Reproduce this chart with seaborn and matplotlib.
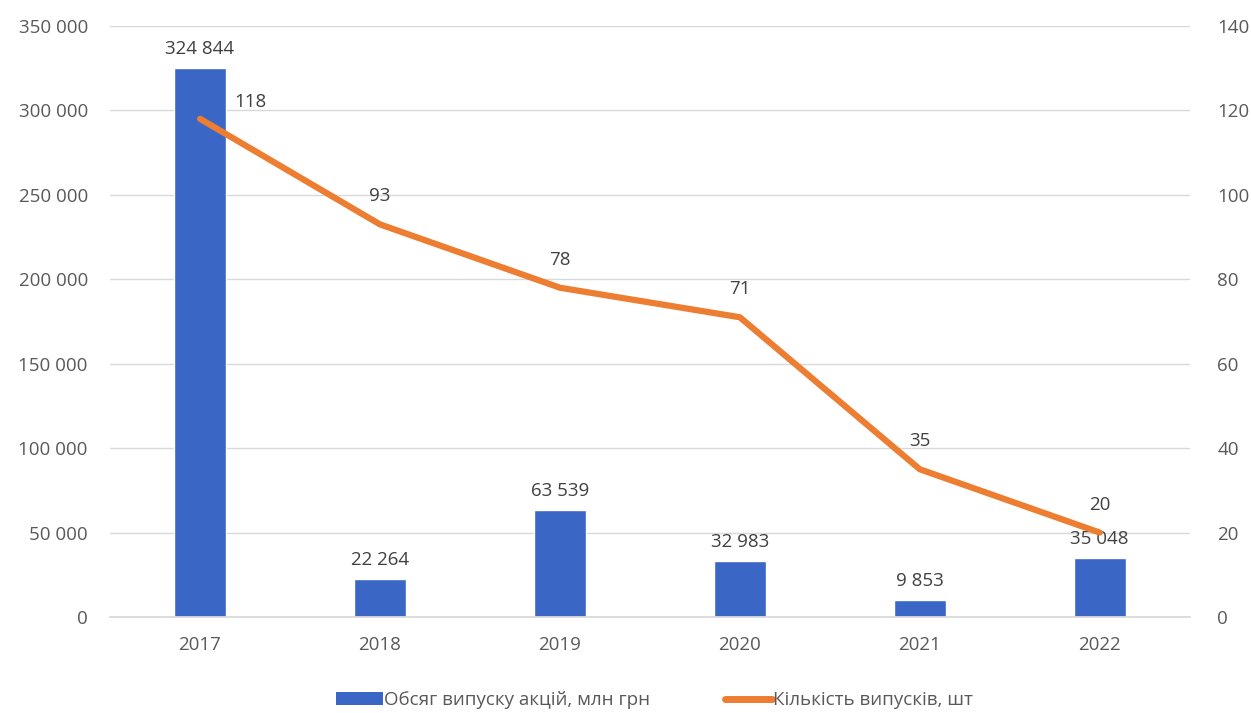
import matplotlib
matplotlib.use("Agg")
import matplotlib.pyplot as plt
import seaborn as sns
import pandas as pd
from matplotlib.patches import Patch
from matplotlib.lines import Line2D

years = ["2017", "2018", "2019", "2020", "2021", "2022"]
volume = [324844, 22264, 63539, 32983, 9853, 35048]
count = [118, 93, 78, 71, 35, 20]
bar_label = "Обсяг випуску акцій, млн грн"
line_label = "Кількість випусків, шт"

def fmt(v):
    return f"{v:,}".replace(",", " ")

sns.set_theme(style="white")
plt.rcParams['font.family'] = ['Open Sans', 'DejaVu Sans']
FS = 13.5

df = pd.DataFrame({"year": years, "volume": volume, "count": count})

fig = plt.figure(figsize=(12.51, 7.13), dpi=100)
ax = fig.add_axes([0.088, 0.1346, 0.863, 0.829])
txt = "#595959"
grid = "#D9D9D9"

sns.barplot(data=df, x="year", y="volume", ax=ax, color="#3A67C6", width=0.29,
            saturation=1, zorder=2)
ax.set_ylim(0, 350000)
ax.set_xlim(-0.5, 5.5)
ax.set_yticks(range(0, 350001, 50000))
ax.set_yticklabels([fmt(v) for v in range(0, 350001, 50000)])
for i, v in enumerate(volume):
    ax.text(i, v + 6000, fmt(v), ha="center", va="bottom", fontsize=FS, color="#404040", zorder=5)

ax2 = ax.twinx()
sns.lineplot(x=list(range(6)), y=count, ax=ax2, color="#ED7D31", linewidth=4.5,
             zorder=3, solid_capstyle="round")
ax2.set_ylim(0, 140)
ax2.set_yticks(range(0, 141, 20))
ax2.set_xlim(-0.5, 5.5)
for i, v in enumerate(count):
    dx = 0.28 if i == 0 else 0
    dy = 1.8 if i == 0 else 4.5
    ax2.text(i + dx, v + dy, str(v), ha="center", va="bottom", fontsize=FS, color="#404040", zorder=5)

for a in (ax, ax2):
    for s in a.spines.values():
        s.set_visible(False)
    a.tick_params(axis="both", length=0, labelsize=FS, labelcolor=txt)
    a.set_xlabel("")
    a.set_ylabel("")
ax.tick_params(axis="y", pad=16)
ax2.tick_params(axis="y", pad=20)
ax.tick_params(axis="x", pad=14)
ax.yaxis.grid(True, color=grid, linewidth=1, zorder=0)
ax.set_axisbelow(True)
ax.spines["bottom"].set_visible(True)
ax.spines["bottom"].set_color(grid)

handles = [Patch(facecolor="#3A67C6", edgecolor="none"),
           Line2D([0], [0], color="#ED7D31", linewidth=5)]
fig.legend(handles, [bar_label, line_label], loc="center", bbox_to_anchor=(0.523, 0.018),
           ncol=2, frameon=False, fontsize=FS, labelcolor=txt, handlelength=2.5,
           handletextpad=0.05, columnspacing=4.0, handleheight=0.7)

fig.savefig("out.png", dpi=100)
